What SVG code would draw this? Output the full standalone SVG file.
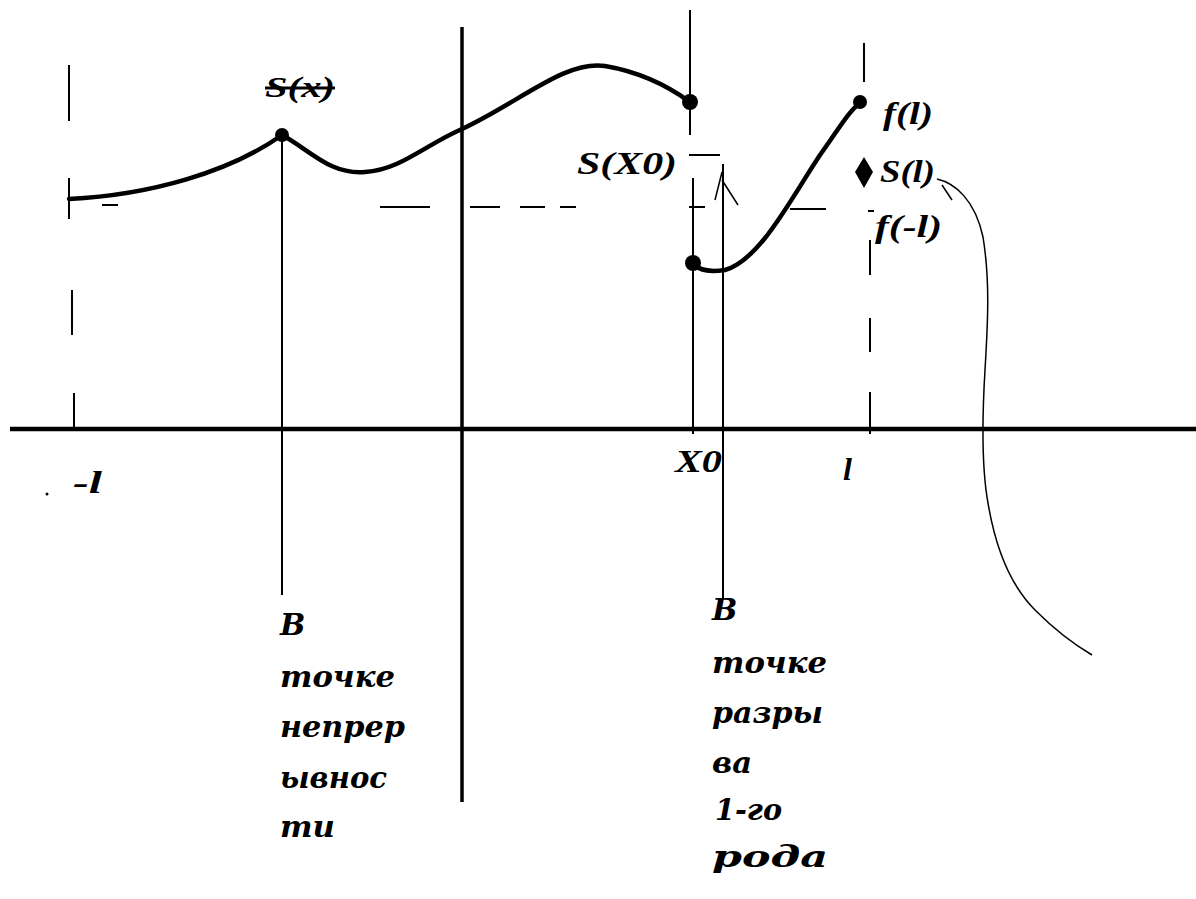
<svg xmlns="http://www.w3.org/2000/svg" width="1196" height="899" viewBox="0 0 1196 899">
<style>
.lbl{font-family:"Liberation Serif","DejaVu Serif",serif;font-style:italic;font-weight:bold;fill:#000}
.cyr{font-family:"DejaVu Serif","Liberation Serif",serif;font-style:italic;font-weight:bold;fill:#000;font-size:30px}
.big{font-size:32px}
.thin{stroke:#000;stroke-width:2;fill:none}
.dash{stroke:#000;stroke-width:2;fill:none}
.curve{stroke:#000;stroke-width:4.5;fill:none;stroke-linejoin:round;stroke-linecap:round}
.hair{stroke:#000;stroke-width:1.5;fill:none}
</style>
<rect width="1196" height="899" fill="#fff"/>
<g id="axes">
<line x1="10" y1="429" x2="1196" y2="429" stroke="#000" stroke-width="4.5"/>
<line x1="462" y1="27" x2="462" y2="802" stroke="#000" stroke-width="3.5"/>
</g>
<g id="guides">
<line class="dash" x1="69" y1="65" x2="69" y2="121"/>
<line class="dash" x1="69" y1="178" x2="69" y2="219"/>
<line class="dash" x1="72" y1="290" x2="72" y2="335"/>
<line class="dash" x1="74" y1="393" x2="74" y2="429"/>
<line class="dash" x1="102" y1="205" x2="118" y2="205"/>
<path class="dash" d="M 380 207 H 430 M 470 207 H 500 M 520 207 H 545 M 560 207 H 576 M 689 207 H 705 M 790 209 H 826 M 868 211 H 874"/>
<line class="dash" x1="864" y1="43" x2="864" y2="82"/>
<line class="dash" x1="870" y1="240" x2="870" y2="275"/>
<line class="dash" x1="870" y1="318" x2="870" y2="352"/>
<line class="dash" x1="870" y1="392" x2="870" y2="434"/>
<line class="thin" x1="282" y1="140" x2="282" y2="595"/>
<line class="thin" x1="690" y1="10" x2="690" y2="135"/>
<line class="thin" x1="693" y1="178" x2="693" y2="434"/>
<line class="thin" x1="689" y1="155" x2="720" y2="155"/>
<line class="thin" x1="723" y1="164" x2="723" y2="600"/>
<path class="hair" d="M 715 200 L 722 172 M 722 180 L 738 205"/>
</g>
<g id="curves">
<path class="curve" d="M 69 199 C 150 195, 230 172, 282 135 C 310 150, 330 175, 365 172 C 400 170, 425 145, 462 129 C 520 102, 565 60, 605 66 C 640 72, 668 86, 690 102"/>
<path class="curve" d="M 693 263 C 700 272, 712 272, 725 270 C 760 260, 790 200, 820 155 C 838 130, 848 112, 860 103"/>
<circle cx="282" cy="135" r="7"/>
<circle cx="690" cy="102" r="8"/>
<circle cx="693" cy="263" r="8"/>
<circle cx="860" cy="102" r="7"/>
<polygon points="864,157 873,172 864,188 855,172"/>
<path class="hair" d="M 937 179 C 955 183, 975 200, 983 237 C 990 280, 988 320, 985 370 C 982 420, 982 470, 988 503 C 995 545, 1010 585, 1035 610 C 1055 630, 1075 645, 1092 655"/>
<path class="hair" d="M 942 185 L 952 200"/>
<circle cx="47" cy="494" r="1.5"/>
</g>
<g id="labels">
<text class="lbl" x="265" y="97" font-size="30" textLength="70" lengthAdjust="spacingAndGlyphs" text-decoration="line-through">S(x)</text>
<text class="lbl big" x="577" y="174" textLength="100" lengthAdjust="spacingAndGlyphs">S(X0)</text>
<text class="lbl big" x="883" y="124" textLength="50" lengthAdjust="spacingAndGlyphs">f(l)</text>
<text class="lbl big" x="880" y="182" textLength="55" lengthAdjust="spacingAndGlyphs">S(l)</text>
<text class="lbl big" x="875" y="237" textLength="67" lengthAdjust="spacingAndGlyphs">f(-l)</text>
<text class="lbl big" x="73" y="493" textLength="29" lengthAdjust="spacingAndGlyphs">-l</text>
<text class="lbl big" x="675" y="472" textLength="47" lengthAdjust="spacingAndGlyphs">X0</text>
<text class="lbl big" x="843" y="480">l</text>
</g>
<g id="note-left">
<text class="cyr" x="280" y="635">В</text>
<text class="cyr" x="280" y="687" textLength="115" lengthAdjust="spacingAndGlyphs">точке</text>
<text class="cyr" x="280" y="737" textLength="125" lengthAdjust="spacingAndGlyphs">непрер</text>
<text class="cyr" x="280" y="788" textLength="107" lengthAdjust="spacingAndGlyphs">ывнос</text>
<text class="cyr" x="280" y="837" textLength="55" lengthAdjust="spacingAndGlyphs">ти</text>
</g>
<g id="note-right">
<text class="cyr" x="712" y="620">В</text>
<text class="cyr" x="712" y="673" textLength="115" lengthAdjust="spacingAndGlyphs">точке</text>
<text class="cyr" x="712" y="723" textLength="111" lengthAdjust="spacingAndGlyphs">разры</text>
<text class="cyr" x="712" y="773" textLength="40" lengthAdjust="spacingAndGlyphs">ва</text>
<text class="cyr" x="715" y="820" textLength="67" lengthAdjust="spacingAndGlyphs">1-го</text>
<text class="cyr" x="712" y="867" textLength="116" lengthAdjust="spacingAndGlyphs">рода</text>
</g>
</svg>
